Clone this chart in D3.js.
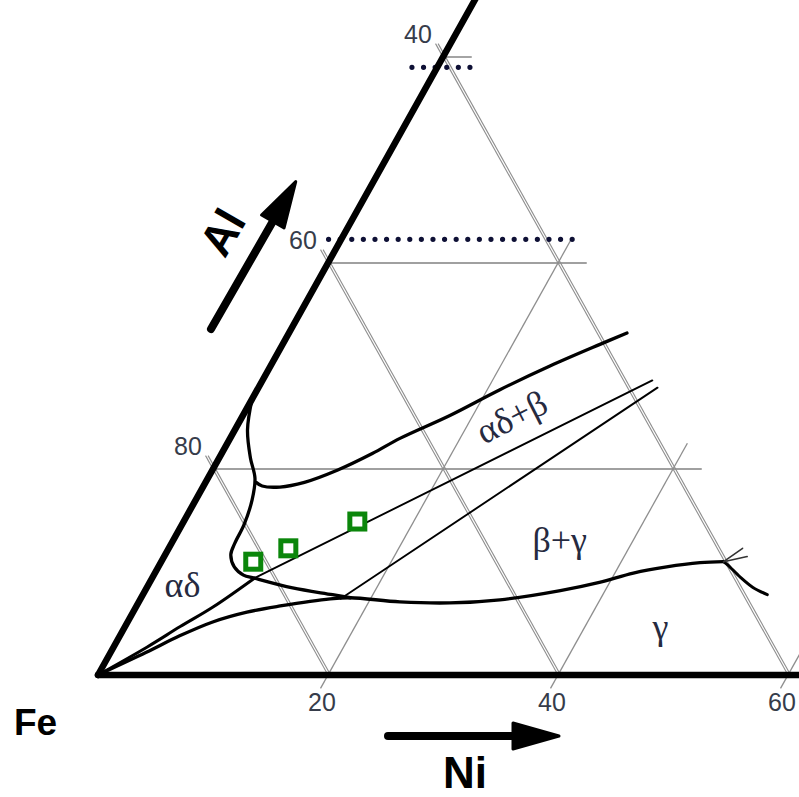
<!DOCTYPE html>
<html>
<head>
<meta charset="utf-8">
<script src="https://cdn.jsdelivr.net/npm/d3@7"></script>
<style>
  html, body { margin: 0; padding: 0; background: #fff; }
  svg { display: block; }
</style>
</head>
<body>
<svg id="chart" width="799" height="797"></svg>
<script>
// Iron-rich corner of the Fe–Ni–Al isothermal section.
// Every composition is [Ni, Al] in at.%; Fe is the balance.

// Grid and tick labels
const alLevels = [20, 40, 60];
const niLevels = [20, 40, 60];
const feLevels = [80, 60, 40];
const alTickText = ["80", "60", "40"];
const niTickText = ["20", "40", "60"];

// Dotted reference lines (constant Al)
const dottedAl = [59.0, 42.3];
const dottedNiFrom = [-2.2, -1.1];
const dottedNiTo = [3.7, 20.1];

// Phase boundaries
const alphaDeltaBoundary = [
  [0, 26.8], [1.1, 23.8], [2.7, 21.1], [4.1, 19.1], [4.9, 17.0], [5.4, 14.6],
  [5.5, 12.8], [5.7, 11.7], [6.6, 10.5], [7.8, 9.7], [8.9, 9.4], [12.7, 8.45],
  [16.5, 7.8], [18.2, 7.5]
];
const alphaDeltaBetaBoundary = [
  [4.4, 18.7], [5.1, 18.35], [6.7, 18.25], [8.6, 18.7], [10.9, 19.9], [13.1, 21.5],
  [14.8, 23.0], [18.0, 25.2], [21.1, 27.7], [24.3, 30.0], [27.6, 32.1], [29.4, 33.2]
];
const gammaBoundary = [
  [0, 0], [3.1, 2.2], [5.2, 3.8], [7.4, 5.15], [9.9, 6.1], [12.5, 6.7], [16.5, 7.4],
  [18.2, 7.5], [22.7, 7.1], [27.1, 7.0], [31.3, 7.3], [36.1, 8.2], [39.1, 9.0],
  [41.6, 9.9], [44.2, 10.5], [46.9, 10.9], [48.9, 11.0]
];
const cornerBoundary = [[0, 0], [2.9, 2.7], [4.8, 4.7], [6.7, 6.6], [8.9, 9.4]];
const gammaTail = [[48.9, 11.0], [49.4, 10.7], [51.1, 9.5], [52.7, 8.5], [54.3, 7.8]];

// Tie lines and short branch marks
const tieLineUpper = [[8.9, 9.4], [33.9, 28.6]];
const tieLineLower = [[17.4, 7.4], [34.7, 27.9]];
const branchA = [[48.9, 11.0], [49.9, 12.3]];
const branchB = [[48.9, 11.0], [50.7, 11.5]];

// Alloy compositions marked with squares
const sampleNi = [8.0, 10.4, 15.1];
const sampleAl = [11.0, 12.3, 14.9];

// Phase-field names
const phaseNames = ["αδ", "αδ+β", "β+γ", "γ"];
const phaseNi = [3.0, 23.5, 33.6, 46.6];
const phaseAl = [8.7, 25.0, 13.1, 4.6];

// ---------------------------------------------------------------
const x = d3.scaleLinear().domain([0, 100]).range([98, 1248]);
const y = d3.scaleLinear().domain([0, 100]).range([675, -355]);
const project = d => [x(d[0] + d[1] / 2), y(d[1])];

const straight = d3.line().x(d => project(d)[0]).y(d => project(d)[1]);
const smooth = d3.line().curve(d3.curveCatmullRom.alpha(0.5))
  .x(d => project(d)[0]).y(d => project(d)[1]);

const svg = d3.select("#chart");
const gridColor = "#8e8e8e";
const limitSum = 100 - d3.min(feLevels);   // grid stops at the Fe = 40 line
const farExt = 2.5, nearExt = 1.3;

// grid: constant Al
const gGrid = svg.append("g").attr("fill", "none");
alLevels.forEach(a => {
  gGrid.append("path").attr("d", straight([[0, a], [limitSum - a + farExt, a]]))
    .attr("stroke", "#a0a0a0").attr("stroke-width", 1.9);
});
// grid: constant Ni
niLevels.forEach(n => {
  gGrid.append("path").attr("d", straight([[n, -nearExt], [n, limitSum - n + farExt]]))
    .attr("stroke", gridColor).attr("stroke-width", 1.3);
});
// grid: constant Fe (printed doubled)
feLevels.forEach(f => {
  const s = 100 - f;
  [0, 2.6].forEach(dx => {
    gGrid.append("path").attr("d", straight([[-nearExt, s + nearExt], [s, 0]]))
      .attr("transform", `translate(${dx},0)`)
      .attr("stroke", gridColor).attr("stroke-width", 1.1);
  });
});

// dotted reference lines
const gDots = svg.append("g");
dottedAl.forEach((a, i) => {
  gDots.append("path").attr("d", straight([[dottedNiFrom[i], a], [dottedNiTo[i], a]]))
    .attr("fill", "none").attr("stroke", "#0e1035")
    .attr("stroke-width", 5.2).attr("stroke-linecap", "round")
    .attr("stroke-dasharray", "0 11.6");
});

// triangle edges
const gEdge = svg.append("g").attr("fill", "none").attr("stroke", "#000")
  .attr("stroke-width", 6.5).attr("stroke-linecap", "round");
gEdge.append("path").attr("d", straight([[0, 0], [62, 0]]));
gEdge.append("path").attr("d", straight([[0, 0], [0, 67]]));

// phase boundaries
const gB = svg.append("g").attr("fill", "none").attr("stroke", "#000")
  .attr("stroke-linecap", "round").attr("stroke-linejoin", "round");
[alphaDeltaBoundary, alphaDeltaBetaBoundary, gammaBoundary].forEach(c =>
  gB.append("path").attr("d", smooth(c)).attr("stroke-width", 3.3));
gB.append("path").attr("d", smooth(cornerBoundary)).attr("stroke-width", 3.0);
gB.append("path").attr("d", smooth(gammaTail)).attr("stroke-width", 3.0);
[tieLineUpper, tieLineLower].forEach(c =>
  gB.append("path").attr("d", straight(c)).attr("stroke-width", 1.9));
[branchA, branchB].forEach(c =>
  gB.append("path").attr("d", straight(c)).attr("stroke-width", 1.6).attr("stroke", "#333"));

// alloy squares
svg.append("g").selectAll("rect")
  .data(sampleNi.map((n, i) => [n, sampleAl[i]]))
  .join("rect")
  .attr("x", d => project(d)[0] - 7.5).attr("y", d => project(d)[1] - 7.5)
  .attr("width", 15).attr("height", 15)
  .attr("fill", "#fff").attr("stroke", "#0b860b").attr("stroke-width", 5);

// tick labels
const tickFont = "'Liberation Sans', Arial, sans-serif";
const gT = svg.append("g").attr("font-family", tickFont).attr("font-size", 25)
  .attr("fill", "#363c4a").attr("text-anchor", "middle");
alLevels.forEach((a, i) => {
  const p = project([0, a]);
  gT.append("text").attr("x", p[0] - 25).attr("y", p[1] - 14).text(alTickText[i]);
});
niLevels.forEach((n, i) => {
  const p = project([n, 0]);
  gT.append("text").attr("x", p[0] - 6).attr("y", p[1] + 36).text(niTickText[i]);
});

// phase labels
const gP = svg.append("g").attr("font-family", "'Liberation Serif', 'Times New Roman', serif")
  .attr("font-size", 36).attr("fill", "#262a40").attr("text-anchor", "middle");
const phaseRot = [0, -27, 0, 0];
phaseNames.forEach((t, i) => {
  const p = project([phaseNi[i], phaseAl[i]]);
  gP.append("text")
    .attr("transform", `translate(${p[0]},${p[1]}) rotate(${phaseRot[i]})`)
    .attr("dy", "0.32em").text(t);
});

// axis arrows and element names
function arrow(x0, y0, angle, len) {
  const g = svg.append("g").attr("transform", `translate(${x0},${y0}) rotate(${angle})`);
  g.append("line").attr("x1", 0).attr("y1", 0).attr("x2", len - 38).attr("y2", 0)
    .attr("stroke", "#000").attr("stroke-width", 8).attr("stroke-linecap", "round");
  g.append("path").attr("d", `M${len - 46},-13 L${len},0 L${len - 46},13 Z`)
    .attr("fill", "#000").attr("stroke", "#000").attr("stroke-width", 3)
    .attr("stroke-linejoin", "round");
}
arrow(388, 736, 0, 171);
arrow(211, 329, -60.1, 170);

const bold = "'Liberation Sans', Arial, sans-serif";
svg.append("text").attr("x", 14).attr("y", 735).attr("font-family", bold)
  .attr("font-weight", "bold").attr("font-size", 37).attr("fill", "#000").text("Fe");
svg.append("text").attr("x", 465).attr("y", 788).attr("text-anchor", "middle")
  .attr("font-family", bold).attr("font-weight", "bold").attr("font-size", 44)
  .attr("fill", "#000").text("Ni");
svg.append("text").attr("transform", "translate(222,232) rotate(-60)")
  .attr("text-anchor", "middle").attr("dy", "0.36em")
  .attr("font-family", bold).attr("font-weight", "bold").attr("font-size", 45)
  .attr("fill", "#000").text("Al");
</script>
</body>
</html>
